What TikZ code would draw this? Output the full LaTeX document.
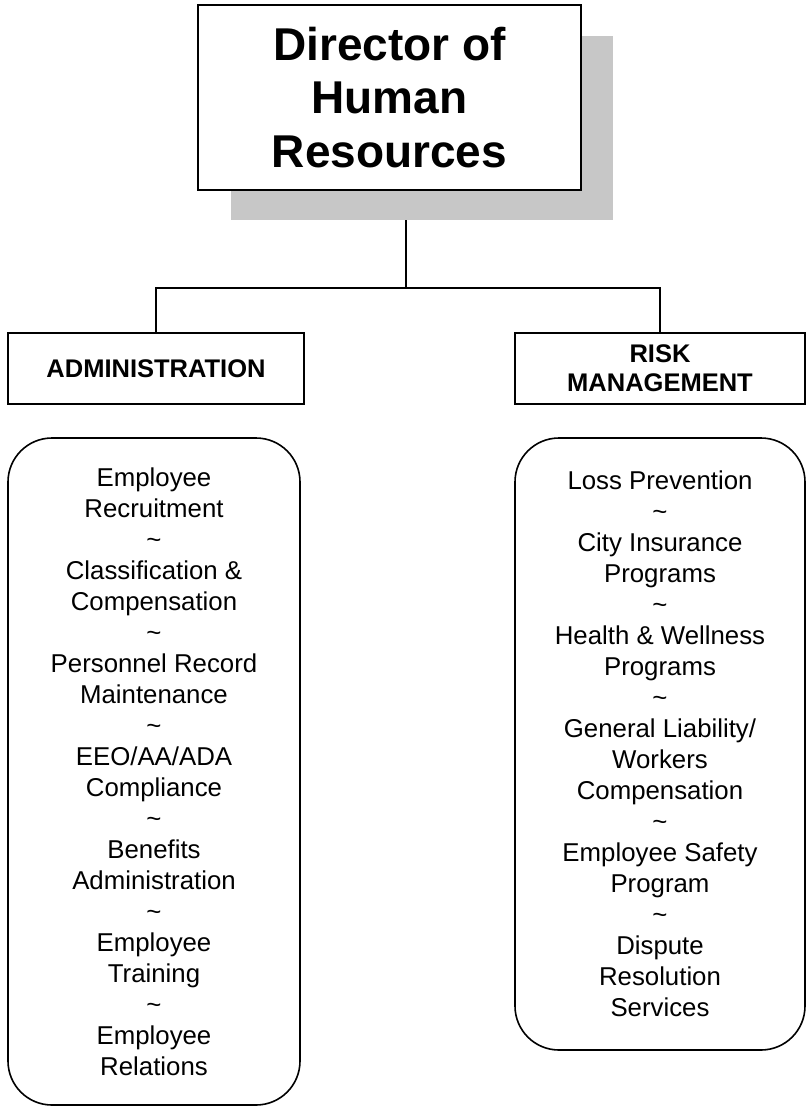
\documentclass[tikz,border=0pt]{standalone}
\usepackage{fontspec}
\setmainfont{Liberation Sans}
\newcommand{\wavesep}{\textasciitilde}
\begin{document}
\begin{tikzpicture}[x=1pt,y=-1pt,
  box/.style={draw, line width=1.8pt, fill=white, inner sep=0pt, align=center},
  shadowbox/.style={fill=black!22, draw=none, inner sep=0pt},
  headfont/.style={font=\bfseries\fontsize{25.5}{29}\selectfont},
  listbox/.style={draw, line width=1.6pt, rounded corners=44pt, inner sep=0pt,
    align=center, font=\fontsize{25.8}{31}\selectfont},
  link/.style={line width=1.6pt}]
\useasboundingbox[fill=white] (0,0) rectangle (807,1109);

% top box with its drop shadow
\node[shadowbox, minimum width=382pt, minimum height=184pt] (dirshadow) at (422,128) {};
\node[box, minimum width=383pt, minimum height=185pt,
  font=\bfseries\fontsize{46}{53.5}\selectfont] (dir) at (389.5,97.5)
  {\raisebox{-2pt}{Director of}\\\raisebox{-2pt}{Human}\\\raisebox{-2pt}{Resources}};

% division heads
\node[box, headfont, minimum width=296pt, minimum height=71pt] (admin) at (156,368.5)
  {ADMINISTRATION};
\node[box, headfont, minimum width=290pt, minimum height=71pt] (risk) at (660,368.5)
  {RISK\\MANAGEMENT};

% branch lines
\coordinate (hub) at (406,288);
\draw[link] (dirshadow.south -| hub) -- (hub);
\draw[link] (admin.north) |- (hub) -| (risk.north);

% duty lists
\node[listbox, minimum width=292pt, minimum height=667pt] (adminlist) at (154,771.5)
  {Employee\\Recruitment\\\wavesep\\Classification \&\\Compensation\\\wavesep\\
   Personnel Record\\Maintenance\\\wavesep\\EEO/AA/ADA\\Compliance\\\wavesep\\
   Benefits\\Administration\\\wavesep\\Employee\\Training\\\wavesep\\
   Employee\\Relations};
\node[listbox, minimum width=290pt, minimum height=612pt] (risklist) at (660,744)
  {Loss Prevention\\\wavesep\\City Insurance\\Programs\\\wavesep\\
   Health \& Wellness\\Programs\\\wavesep\\General Liability/\\Workers\\
   Compensation\\\wavesep\\Employee Safety\\Program\\\wavesep\\
   Dispute\\Resolution\\Services};
\end{tikzpicture}
\end{document}
